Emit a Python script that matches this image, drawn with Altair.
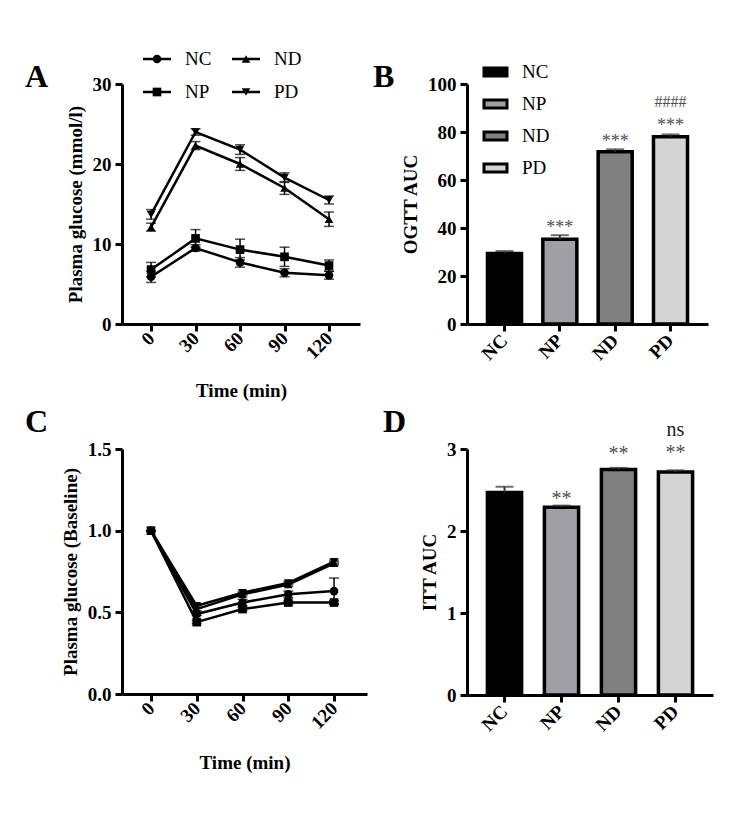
import altair as alt
import pandas as pd

SERIF = "Liberation Serif"

time_min = [0, 30, 60, 90, 120]
groups = ["NC", "NP", "ND", "PD"]
shapes = ["circle", "square", "triangle-up", "triangle-down"]
bar_colors = ["#000000", "#a0a0a4", "#808080", "#d4d4d4"]

# Panel A: OGTT plasma glucose (mmol/l), mean and SEM
ogtt_nc = [5.9, 9.5, 7.7, 6.4, 6.1]
ogtt_np = [6.8, 10.7, 9.3, 8.4, 7.3]
ogtt_nd = [12.1, 22.3, 20.0, 17.0, 13.1]
ogtt_pd = [13.7, 24.0, 21.8, 18.3, 15.5]
ogtt_nc_sem = [0.7, 0.4, 0.6, 0.5, 0.5]
ogtt_np_sem = [0.9, 1.1, 1.3, 1.2, 0.7]
ogtt_nd_sem = [0.5, 0.5, 0.8, 0.8, 0.9]
ogtt_pd_sem = [0.6, 0.4, 0.6, 0.6, 0.5]

# Panel B: OGTT AUC
ogtt_auc = [29.4, 35.3, 71.8, 78.0]
ogtt_auc_sem = [1.0, 1.7, 1.0, 1.0]

# Panel C: ITT plasma glucose relative to baseline
itt_nc = [1.0, 0.49, 0.56, 0.61, 0.63]
itt_np = [1.0, 0.44, 0.52, 0.56, 0.56]
itt_nd = [1.0, 0.52, 0.61, 0.67, 0.80]
itt_pd = [1.0, 0.54, 0.62, 0.68, 0.81]
itt_nc_sem = [0.0, 0.01, 0.02, 0.02, 0.08]
itt_np_sem = [0.0, 0.01, 0.01, 0.01, 0.01]
itt_nd_sem = [0.0, 0.01, 0.01, 0.01, 0.01]
itt_pd_sem = [0.0, 0.01, 0.01, 0.01, 0.01]

# Panel D: ITT AUC
itt_auc = [2.47, 2.29, 2.75, 2.72]
itt_auc_sem = [0.07, 0.02, 0.02, 0.02]

# significance labels: (group, text)
ogtt_marks = [("NP", "***"), ("ND", "***"), ("PD", "***"), ("PD", "####")]
itt_marks = [("NP", "**"), ("ND", "**"), ("PD", "**"), ("PD", "ns")]


def letter_layer(letter, lx, ly):
    return alt.Chart(pd.DataFrame({"t": [letter]})).mark_text(
        align="left", baseline="alphabetic", font=SERIF, fontSize=32,
        fontWeight="bold", color="black"
    ).encode(x=alt.value(lx), y=alt.value(ly), text="t:N")


def line_panel(means, sems, x_domain, y_domain, y_values, y_title, y_format,
               width, height, letter, letter_y, show_legend, x_title_pad):
    rows = []
    for g, m, s in zip(groups, means, sems):
        for t, v, e in zip(time_min, m, s):
            rows.append({"group": g, "time": t, "mean": v, "lo": v - e, "hi": v + e})
    df = pd.DataFrame(rows)
    xscale = alt.Scale(domain=x_domain, nice=False, zero=False)
    xaxis = alt.Axis(values=time_min, title="Time (min)", labelAngle=-45,
                     labelAlign="right", labelBaseline="middle", titlePadding=x_title_pad)
    yscale = alt.Scale(domain=y_domain, nice=False, zero=False)
    yaxis = alt.Axis(values=y_values, format=y_format, title=y_title)
    x = alt.X("time:Q", scale=xscale, axis=xaxis)
    shape = alt.Shape("group:N", scale=alt.Scale(domain=groups, range=shapes), legend=None)
    base = alt.Chart(df)
    err = base.mark_rule(color="black", strokeWidth=1.5).encode(
        x=x, y=alt.Y("lo:Q", scale=yscale, axis=yaxis), y2="hi:Q")
    caps = base.transform_fold(["lo", "hi"], as_=["bound", "val"]).mark_tick(
        orient="horizontal", size=10, thickness=1.5, color="black").encode(
        x=x, y=alt.Y("val:Q", scale=yscale, axis=yaxis))
    lines = base.mark_line(color="black", strokeWidth=2.5).encode(
        x=x, y=alt.Y("mean:Q", scale=yscale, axis=yaxis), detail="group:N")
    pts = base.mark_point(filled=True, opacity=1, size=75, color="black").encode(
        x=x, y=alt.Y("mean:Q", scale=yscale, axis=yaxis), shape=shape)
    main = alt.layer(err, caps, lines, pts)
    layers = [main]
    if show_legend:
        leg = pd.DataFrame({"group": groups})
        leg["col"] = [i // 2 for i in range(len(groups))]
        leg["row"] = [i % 2 for i in range(len(groups))]
        leg["lx"] = 35 + 89 * leg["col"]
        leg["ly"] = -25 + 33 * leg["row"]
        leg["x1"] = leg["lx"] - 14
        leg["x2"] = leg["lx"] + 14
        leg["tx"] = leg["lx"] + 28
        lxs = alt.Scale(domain=[0, width], range=[0, width], nice=False, zero=False)
        lys = alt.Scale(domain=[0, height], range=[0, height], nice=False, zero=False)
        lb = alt.Chart(leg)
        ll = lb.mark_rule(color="black", strokeWidth=2.5).encode(
            x=alt.X("x1:Q", scale=lxs, axis=None), x2="x2:Q",
            y=alt.Y("ly:Q", scale=lys, axis=None))
        lp = lb.mark_point(filled=True, opacity=1, size=75, color="black").encode(
            x=alt.X("lx:Q", scale=lxs, axis=None),
            y=alt.Y("ly:Q", scale=lys, axis=None), shape=shape)
        lt = lb.mark_text(align="left", baseline="middle", font=SERIF, fontSize=19,
                          color="black").encode(
            x=alt.X("tx:Q", scale=lxs, axis=None),
            y=alt.Y("ly:Q", scale=lys, axis=None), text="group:N")
        layers.append(alt.layer(ll, lp, lt))
    layers.append(letter_layer(letter, -97, letter_y))
    return alt.layer(*layers).resolve_scale(x="independent", y="independent").properties(
        width=width, height=height)


def bar_panel(values, sems, y_domain, y_values, y_title, width, height, pad_in, pad_out,
              letter, letter_x, letter_y, marks, mark_dy, mark_size, mark_color, show_legend):
    df = pd.DataFrame({"group": groups, "value": values,
                       "hi": [v + s for v, s in zip(values, sems)]})
    x = alt.X("group:N", sort=groups,
              scale=alt.Scale(domain=groups, paddingInner=pad_in, paddingOuter=pad_out),
              axis=alt.Axis(title=None, labelAngle=-45, labelAlign="right",
                            labelBaseline="middle", labelPadding=6))
    yscale = alt.Scale(domain=y_domain, nice=False, zero=True)
    yaxis = alt.Axis(values=y_values, title=y_title)
    color = alt.Color("group:N", scale=alt.Scale(domain=groups, range=bar_colors), legend=None)
    base = alt.Chart(df)
    err = base.mark_rule(color="#333333", strokeWidth=2).encode(
        x=x, y=alt.Y("value:Q", scale=yscale, axis=yaxis), y2="hi:Q")
    cap = base.mark_tick(orient="horizontal", size=18, thickness=2, color="#333333").encode(
        x=x, y=alt.Y("hi:Q", scale=yscale, axis=yaxis))
    bars = base.mark_bar(stroke="black", strokeWidth=3.5).encode(
        x=x, y=alt.Y("value:Q", scale=yscale, axis=yaxis), color=color)
    main_layers = [bars, err, cap]
    for (g, txt), dy, fs, col in zip(marks, mark_dy, mark_size, mark_color):
        main_layers.append(
            base.transform_filter(alt.datum.group == g).mark_text(
                text=txt, dy=dy, fontSize=fs, font=SERIF, color=col,
                baseline="alphabetic", align="center").encode(
                x=x, y=alt.Y("hi:Q", scale=yscale, axis=yaxis)))
    layers = [alt.layer(*main_layers)]
    if show_legend:
        leg = pd.DataFrame({"group": groups})
        leg["ly"] = [-12 + 32 * i for i in range(len(groups))]
        leg["ry1"] = leg["ly"] - 4
        leg["ry2"] = leg["ly"] + 4
        leg["rx1"] = 17
        leg["rx2"] = 40
        leg["tx"] = 55
        lxs = alt.Scale(domain=[0, width], range=[0, width], nice=False, zero=False)
        lys = alt.Scale(domain=[0, height], range=[0, height], nice=False, zero=False)
        lb = alt.Chart(leg)
        lr = lb.mark_rect(stroke="black", strokeWidth=3).encode(
            x=alt.X("rx1:Q", scale=lxs, axis=None), x2="rx2:Q",
            y=alt.Y("ry1:Q", scale=lys, axis=None), y2="ry2:Q", color=color)
        lt = lb.mark_text(align="left", baseline="middle", font=SERIF, fontSize=19,
                          color="black").encode(
            x=alt.X("tx:Q", scale=lxs, axis=None),
            y=alt.Y("ly:Q", scale=lys, axis=None), text="group:N")
        layers.append(alt.layer(lr, lt))
    layers.append(letter_layer(letter, letter_x, letter_y))
    return alt.layer(*layers).resolve_scale(x="independent", y="independent").properties(
        width=width, height=height)


panel_a = line_panel([ogtt_nc, ogtt_np, ogtt_nd, ogtt_pd],
                     [ogtt_nc_sem, ogtt_np_sem, ogtt_nd_sem, ogtt_pd_sem],
                     [-19.6, 140.9], [0, 30], [0, 10, 20, 30],
                     "Plasma glucose (mmol/l)", "d", 238, 240, "A", 3, True, 19)
panel_b = bar_panel(ogtt_auc, ogtt_auc_sem, [0, 100], [0, 20, 40, 60, 80, 100],
                    "OGTT AUC", 241, 240, 0.385, 0.37, "B", -94, 3,
                    ogtt_marks, [-2, -2, -3, -27], [18, 18, 18, 16],
                    ["#505050", "#505050", "#505050", "#505050"], True)
panel_c = line_panel([itt_nc, itt_np, itt_nd, itt_pd],
                     [itt_nc_sem, itt_np_sem, itt_nd_sem, itt_pd_sem],
                     [-19, 141.6], [0, 1.5], [0, 0.5, 1.0, 1.5],
                     "Plasma glucose (Baseline)", ".1f", 245, 245, "C", -17, False, 21)
panel_d = bar_panel(itt_auc, itt_auc_sem, [0, 3], [0, 1, 2, 3],
                    "ITT AUC", 246, 246, 0.40, 0.358, "D", -84, -17,
                    itt_marks, [-1, -8, -11, -34], [20, 20, 20, 20],
                    ["#505050", "#505050", "#505050", "#222222"], False)

chart = alt.concat(
    panel_a, panel_b, panel_c, panel_d, columns=2,
    spacing={"row": 125, "column": 100}, bounds="flush",
    padding={"left": 17, "top": 42, "right": 10, "bottom": 10},
    background="white",
).configure_axis(
    domainColor="black", domainWidth=3, tickColor="black", tickWidth=3, tickSize=7,
    labelFont=SERIF, labelFontSize=19, labelFontWeight="bold", labelColor="black",
    labelPadding=4, labelOverlap=False, labelFlush=False,
    titleFont=SERIF, titleFontSize=19, titleFontWeight="bold", titleColor="black",
    titlePadding=7, grid=False,
).configure_view(stroke=None)

chart.save("out.html", embed_options={"renderer": "svg", "actions": False})
